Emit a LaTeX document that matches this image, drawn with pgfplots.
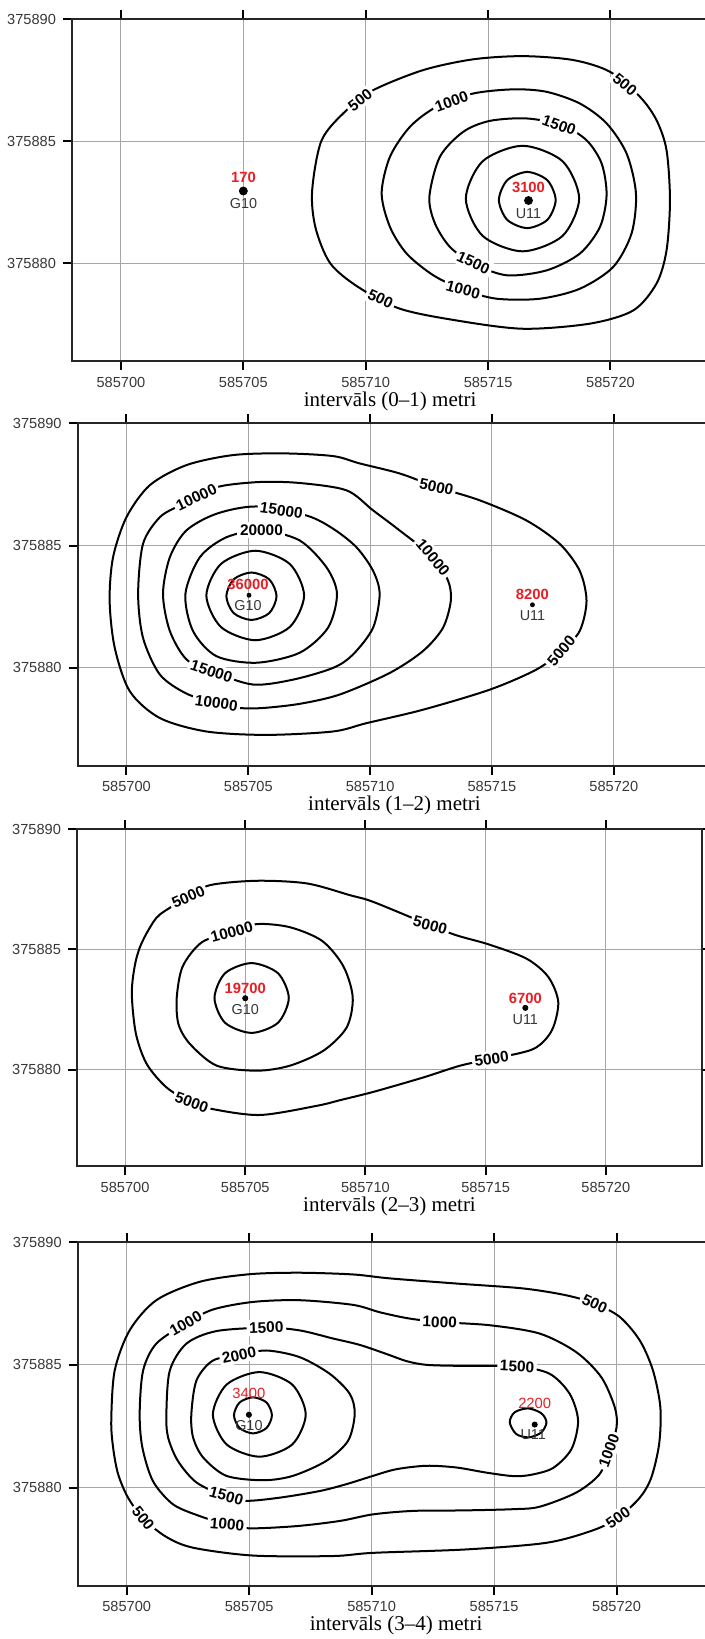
\documentclass[border=0pt]{standalone}
\usepackage{fontspec}
\setmainfont{Liberation Serif}
\setsansfont{Liberation Sans}
\usepackage{pgfplots}
\pgfplotsset{compat=1.18}
\definecolor{wellred}{RGB}{232,30,36}
\definecolor{tickgray}{RGB}{55,55,55}
\newcommand\tickfont{\sffamily\fontsize{7.3}{8}\selectfont}
\newcommand\clfont{\sffamily\bfseries\fontsize{7.7}{8}\selectfont}
\newcommand\redfont{\sffamily\bfseries\fontsize{7.4}{8}\selectfont}
\newcommand\redfontlight{\sffamily\fontsize{7.4}{8}\selectfont}
\newcommand\wellfont{\sffamily\fontsize{7.2}{8}\selectfont}
\newcommand\titlefont{\rmfamily\fontsize{10.5}{12}\selectfont}
% x values are metres east of 585700, y values metres north of 375880
\pgfplotsset{
  panel/.style={
    scale only axis, anchor=south west,
    xmin=-2, xmax=24, ymin=-4, ymax=10,
    xtick={0,5,10,15,20}, xticklabels={585700,585705,585710,585715,585720},
    ytick={0,5,10}, yticklabels={375880,375885,375890},
    grid=major, major grid style={black!35, line width=0.5pt},
    tick align=outside, major tick length=4.5pt,
    tick style={black, line width=1pt},
    axis line style={black!85, line width=1.15pt},
    tick label style={font=\tickfont, text=tickgray},
    /pgf/number format/assume math mode=true,
    xlabel style={font=\titlefont, at={(axis description cs:0.5,0)}, anchor=center, yshift=-20pt},
  },
  cl/.style={black, line width=1pt, smooth cycle, mark=none},
  well/.style={only marks, mark=*, mark size=#1, black},
}
\tikzset{
  lab/.style={font=\clfont, fill=white, inner sep=1.3pt},
  red/.style={font=\redfont, text=wellred},
  redl/.style={font=\redfontlight, text=wellred},
  wn/.style={font=\wellfont, text=tickgray},
}
\begin{document}
\begin{tikzpicture}
\useasboundingbox (0,0) rectangle (352.5pt,-819.5pt);
% ---------------- panel 1 ----------------
\begin{axis}[panel, at={(36pt,-180.5pt)}, width=318.2pt, height=171pt, xlabel={intervāls (0–1) metri}]
\addplot[cl] coordinates {(17.76,2.59) (17.42,3.40) (16.60,3.74) (15.78,3.40) (15.44,2.59) (15.78,1.78) (16.60,1.44) (17.42,1.78)};
\addplot[cl] coordinates {(18.72,2.65) (18.04,4.18) (16.41,4.81) (14.78,4.18) (14.09,2.65) (14.78,1.12) (16.41,0.49) (18.04,1.12)};
\addplot[cl] coordinates {(12.60,2.72) (13.03,4.36) (13.98,5.38) (15.07,5.83) (16.57,5.93) (18.00,5.66) (19.02,5.04) (19.64,4.08) (19.84,2.79) (19.57,1.49) (18.75,0.40) (17.39,-0.29) (15.76,-0.49) (14.39,-0.01) (13.44,0.67) (12.83,1.63)};
\addplot[cl] coordinates {(10.65,2.86) (10.99,4.36) (11.81,5.59) (12.90,6.41) (14.39,6.95) (16.03,7.12) (17.39,7.02) (18.75,6.54) (19.84,5.73) (20.66,4.49) (21.04,2.86) (20.86,1.22) (20.11,-0.15) (18.75,-1.04) (17.12,-1.45) (15.35,-1.45) (13.98,-1.08) (12.76,-0.49) (11.67,0.40) (10.99,1.49)};
\addplot[cl] coordinates {(7.81,2.96) (8.20,5.04) (9.22,6.27) (10.31,7.09) (12.35,7.91) (14.39,8.35) (16.43,8.48) (18.48,8.32) (19.98,7.84) (21.20,6.82) (21.88,5.86) (22.29,4.63) (22.43,2.58) (22.29,0.53) (21.88,-0.83) (20.93,-1.93) (19.16,-2.47) (16.43,-2.68) (13.71,-2.34) (11.40,-1.86) (9.69,-0.97) (8.55,0.00) (7.95,1.45)};
\addplot[well=2pt] coordinates {(5.00,2.96) (16.65,2.57)};
\node[lab, rotate=37] at (axis cs:9.77,6.68) {500};
\node[lab, rotate=-40] at (axis cs:20.59,7.33) {500};
\node[lab, rotate=-25] at (axis cs:10.60,-1.45) {500};
\node[lab, rotate=20] at (axis cs:13.51,6.63) {1000};
\node[lab, rotate=-15] at (axis cs:13.98,-1.08) {1000};
\node[lab, rotate=-20] at (axis cs:17.90,5.66) {1500};
\node[lab, rotate=-25] at (axis cs:14.40,0.02) {1500};
\node[red] at (axis cs:5.01,3.50) {170};
\node[wn] at (axis cs:5.01,2.45) {G10};
\node[red] at (axis cs:16.65,3.10) {3100};
\node[wn] at (axis cs:16.65,2.04) {U11};
\end{axis}
% ---------------- panel 2 ----------------
\begin{axis}[panel, at={(38.85pt,-382.85pt)}, width=316.8pt, height=171.2pt, xlabel={intervāls (1–2) metri}]
\addplot[cl] coordinates {(6.16,2.93) (5.86,3.62) (5.13,3.90) (4.40,3.62) (4.10,2.93) (4.40,2.24) (5.13,1.96) (5.86,2.24)};
\addplot[cl] coordinates {(7.29,2.96) (6.70,4.25) (5.29,4.79) (3.88,4.25) (3.28,2.96) (3.88,1.67) (5.29,1.13) (6.70,1.67)};
\addplot[cl] coordinates {(2.42,3.02) (3.01,4.52) (4.10,5.34) (5.54,5.62) (7.11,5.21) (8.21,4.11) (8.64,3.02) (8.27,1.64) (7.11,0.62) (5.33,0.21) (3.69,0.48) (2.73,1.51)};
\addplot[cl] coordinates {(1.50,3.02) (1.78,4.52) (2.46,5.62) (3.69,6.30) (5.33,6.60) (7.39,6.23) (8.48,5.69) (9.44,4.93) (10.12,3.97) (10.39,3.02) (10.12,1.64) (9.30,0.55) (8.48,0.00) (6.84,-0.48) (5.19,-0.68) (3.49,-0.14) (2.46,0.35) (1.78,1.51)};
\addplot[cl] coordinates {(0.48,3.02) (0.68,5.07) (1.37,6.16) (2.19,6.64) (2.87,6.98) (3.83,7.42) (5.47,7.60) (7.11,7.56) (9.03,7.26) (10.12,6.44) (11.21,5.62) (12.58,4.52) (13.20,3.56) (13.31,2.74) (12.99,1.64) (12.17,0.69) (10.80,-0.21) (8.75,-1.09) (7.11,-1.47) (5.60,-1.64) (4.65,-1.64) (3.69,-1.44) (2.46,-1.05) (1.37,-0.27) (0.68,1.23)};
\addplot[cl] coordinates {(-0.69,2.74) (-0.55,4.52) (0.00,6.16) (0.96,7.47) (2.46,8.29) (4.37,8.70) (6.43,8.77) (8.48,8.66) (9.57,8.36) (11.21,7.95) (12.72,7.40) (14.50,6.85) (16.41,6.03) (17.78,5.07) (18.60,3.97) (18.88,2.74) (18.60,1.51) (17.85,0.69) (16.82,-0.07) (14.91,-0.89) (12.17,-1.71) (9.85,-2.26) (8.48,-2.60) (5.74,-2.74) (3.28,-2.60) (1.37,-2.05) (0.14,-0.96) (-0.48,0.82)};
\addplot[well=1pt] coordinates {(5.03,2.97) (16.66,2.58)};
\node[lab, rotate=25] at (axis cs:2.87,6.98) {10000};
\node[lab, rotate=-8] at (axis cs:6.36,6.44) {15000};
\node[lab, rotate=0] at (axis cs:5.54,5.62) {20000};
\node[lab, rotate=-50] at (axis cs:12.58,4.52) {10000};
\node[lab, rotate=-12] at (axis cs:12.72,7.40) {5000};
\node[lab, rotate=50] at (axis cs:17.85,0.69) {5000};
\node[lab, rotate=-18] at (axis cs:3.49,-0.14) {15000};
\node[lab, rotate=-8] at (axis cs:3.69,-1.44) {10000};
\node[red] at (axis cs:4.99,3.42) {36000};
\node[wn] at (axis cs:4.99,2.53) {G10};
\node[red] at (axis cs:16.66,3.02) {8200};
\node[wn] at (axis cs:16.66,2.12) {U11};
\end{axis}
% ---------------- panel 3 ----------------
\begin{axis}[panel, at={(38.5pt,-583pt)}, width=312.5pt, height=168.5pt, xlabel={intervāls (2–3) metri}]
\addplot[cl] coordinates {(6.81,2.98) (6.36,4.01) (5.26,4.43) (4.16,4.01) (3.72,2.98) (4.16,1.95) (5.26,1.53) (6.36,1.95)};
\addplot[cl] coordinates {(2.15,3.00) (2.40,4.30) (3.20,5.30) (4.44,5.72) (5.48,6.05) (6.86,5.92) (8.20,5.35) (9.08,4.30) (9.47,3.01) (9.22,1.76) (8.25,0.79) (6.86,0.17) (5.48,-0.04) (3.81,0.17) (2.70,1.07) (2.22,1.90)};
\addplot[cl] coordinates {(0.28,3.15) (0.40,4.30) (0.62,5.10) (1.00,5.85) (1.45,6.45) (2.63,7.18) (3.54,7.67) (5.48,7.85) (7.56,7.74) (9.36,7.25) (10.33,6.97) (12.69,6.00) (13.80,5.58) (15.18,5.19) (16.71,4.61) (17.61,3.85) (18.02,2.81) (17.75,1.63) (16.98,0.86) (15.25,0.45) (13.94,0.17) (12.41,-0.32) (10.33,-0.92) (9.00,-1.25) (7.97,-1.50) (5.62,-1.88) (3.67,-1.64) (2.77,-1.36) (1.73,-0.74) (0.90,0.24) (0.45,1.50)};
\addplot[well=1.3pt] coordinates {(5.00,2.97) (16.65,2.57)};
\node[lab, rotate=24] at (axis cs:2.63,7.18) {5000};
\node[lab, rotate=15] at (axis cs:4.44,5.72) {10000};
\node[lab, rotate=-15] at (axis cs:12.69,6.00) {5000};
\node[lab, rotate=8] at (axis cs:15.25,0.45) {5000};
\node[lab, rotate=-20] at (axis cs:2.77,-1.36) {5000};
\node[red] at (axis cs:5.00,3.36) {19700};
\node[wn] at (axis cs:5.00,2.50) {G10};
\node[red] at (axis cs:16.65,2.95) {6700};
\node[wn] at (axis cs:16.65,2.08) {U11};
\end{axis}
% ---------------- panel 4 ----------------
\begin{axis}[panel, at={(38.85pt,-792.85pt)}, width=318.4pt, height=171.7pt, xlabel={intervāls (3–4) metri}]
\addplot[cl] coordinates {(5.93,2.95) (5.71,3.47) (5.16,3.68) (4.61,3.47) (4.38,2.95) (4.61,2.43) (5.16,2.21) (5.71,2.43)};
\addplot[cl] coordinates {(7.31,2.98) (6.76,4.20) (5.42,4.71) (4.08,4.20) (3.52,2.98) (4.08,1.76) (5.42,1.26) (6.76,1.76)};
\addplot[cl] coordinates {(2.64,3.00) (2.85,4.37) (3.52,5.18) (4.59,5.40) (5.70,5.59) (7.06,5.32) (8.29,4.64) (9.11,3.82) (9.31,3.00) (9.04,1.91) (8.15,1.09) (6.79,0.48) (5.57,0.30) (4.07,0.48) (3.12,1.23) (2.71,2.05)};
\addplot[cl] coordinates {(15.64,2.66) (15.84,3.07) (16.39,3.23) (16.93,3.03) (17.14,2.66) (16.93,2.25) (16.43,2.05) (15.91,2.18)};
\addplot[cl] coordinates {(1.62,3.00) (1.76,4.77) (2.44,5.87) (3.66,6.38) (5.70,6.52) (7.06,6.41) (8.42,6.08) (9.51,5.82) (10.60,5.45) (11.45,5.15) (12.30,5.00) (13.87,4.96) (15.94,4.94) (17.27,4.64) (18.09,3.82) (18.43,2.73) (18.16,1.57) (17.41,0.80) (16.50,0.52) (15.77,0.47) (14.69,0.61) (13.46,0.82) (12.24,0.89) (11.01,0.75) (10.06,0.48) (8.97,0.14) (7.88,-0.14) (6.25,-0.41) (4.89,-0.54) (4.07,-0.38) (2.85,0.21) (2.09,1.09) (1.69,2.05)};
\addplot[cl] coordinates {(0.53,3.00) (0.67,4.77) (1.21,5.87) (2.41,6.69) (3.52,7.26) (5.16,7.57) (7.06,7.64) (9.24,7.45) (10.33,7.15) (11.50,6.90) (12.78,6.75) (14.82,6.62) (16.86,6.28) (18.36,5.52) (19.38,4.50) (19.93,3.27) (20.00,2.45) (19.69,1.50) (19.31,0.55) (18.36,-0.20) (16.86,-0.78) (15.77,-0.88) (13.73,-0.93) (11.69,-0.95) (10.06,-1.09) (8.70,-1.36) (6.93,-1.57) (5.02,-1.66) (4.10,-1.50) (2.98,-1.16) (1.89,-0.68) (1.07,0.27) (0.64,1.64)};
\addplot[cl] coordinates {(-0.63,2.73) (-0.49,4.77) (0.12,6.41) (1.21,7.64) (2.98,8.39) (5.02,8.70) (7.06,8.76) (9.24,8.69) (10.74,8.53) (13.46,8.32) (16.18,8.12) (17.95,7.84) (19.11,7.50) (20.13,6.96) (20.95,6.00) (21.49,4.77) (21.79,3.27) (21.74,1.78) (21.42,0.41) (20.95,-0.41) (20.06,-1.23) (19.04,-1.74) (17.14,-2.25) (13.87,-2.52) (10.06,-2.66) (8.42,-2.79) (5.16,-2.77) (2.71,-2.45) (1.60,-2.00) (0.67,-1.25) (0.05,-0.40) (-0.35,0.55) (-0.55,1.60)};
\addplot[well=1.3pt] coordinates {(4.99,2.97) (16.66,2.57)};
\node[lab, rotate=-25] at (axis cs:19.11,7.50) {500};
\node[lab, rotate=-2] at (axis cs:12.78,6.75) {1000};
\node[lab, rotate=-3] at (axis cs:15.94,4.94) {1500};
\node[lab, rotate=70] at (axis cs:19.69,1.50) {1000};
\node[lab, rotate=35] at (axis cs:20.06,-1.23) {500};
\node[lab, rotate=30] at (axis cs:2.41,6.69) {1000};
\node[lab, rotate=2] at (axis cs:5.70,6.52) {1500};
\node[lab, rotate=12] at (axis cs:4.59,5.40) {2000};
\node[lab, rotate=-15] at (axis cs:4.07,-0.34) {1500};
\node[lab, rotate=-5] at (axis cs:4.10,-1.50) {1000};
\node[lab, rotate=-52] at (axis cs:0.67,-1.25) {500};
\node[redl] at (axis cs:4.99,3.85) {3400};
\node[wn] at (axis cs:4.99,2.52) {G10};
\node[redl] at (axis cs:16.66,3.44) {2200};
\node[wn] at (axis cs:16.60,2.18) {U11};
\end{axis}
\end{tikzpicture}
\end{document}
